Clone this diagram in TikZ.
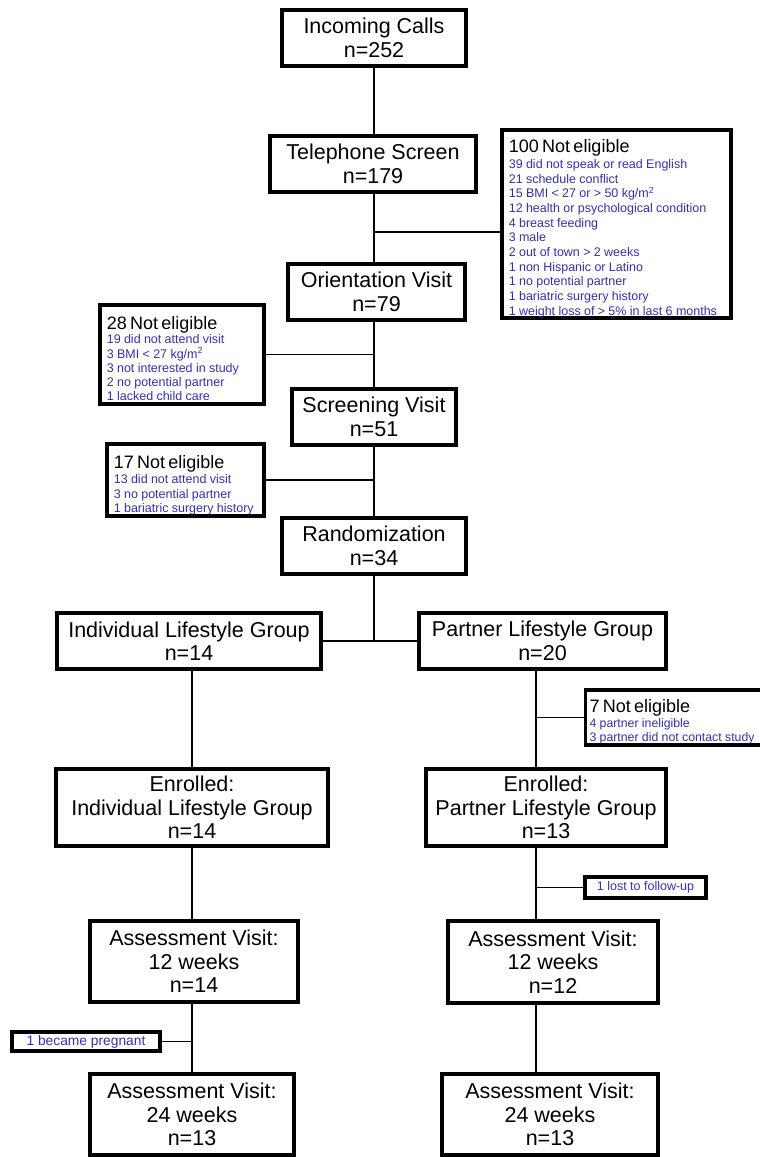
\documentclass[tikz,border=0pt]{standalone}
\usepackage{fontspec}
\setmainfont{Liberation Sans}
\definecolor{noteblue}{RGB}{50,50,165}
\newcommand\mfont{\fontsize{21.5}{23.5}\selectfont}
\newcommand\tfont{\fontsize{18}{20}\selectfont}
\newcommand\bfont{\fontsize{12.5}{14.7}\selectfont\color{noteblue}}
\begin{document}
\begin{tikzpicture}[x=1pt,y=-1pt,
  box/.style={draw=black, line width=3.6pt, align=center, inner sep=0pt, font=\mfont},
  note/.style={draw=black, line width=3.6pt, align=left, inner xsep=7pt, inner ysep=0pt},
  small/.style={draw=black, line width=3.6pt, align=center, inner sep=0pt, font=\bfont},
  conn/.style={draw=black, line width=1.3pt}]
\useasboundingbox (0,0) rectangle (760,1157);
\coordinate (mc) at (374,0);
\coordinate (lc) at (192,0);
\coordinate (rc) at (536,0);
% main column
\node[box, minimum width=184.4, minimum height=56.4] (A) at (374,38) {Incoming Calls\\n=252};
\node[box, minimum width=206.4, minimum height=56.4] (B) at (373,164) {Telephone Screen\\n=179};
\node[box, minimum width=177.4, minimum height=56.4] (D) at (376.5,292) {Orientation Visit\\n=79};
\node[box, minimum width=164.4, minimum height=56.4] (F) at (374,417) {Screening Visit\\n=51};
\node[box, minimum width=184.4, minimum height=56.4] (H) at (374,546) {Randomization\\n=34};
% side notes
\node[note, minimum width=229.4, minimum height=188.4, text width=215.4] (C) at (616.5,224)
 {\vskip2pt{\tfont 100 Not eligible\par}\vskip1.5pt
  {\bfont 39 did not speak or read English\\
   21 schedule conflict\\
   15 BMI < 27 or > 50 kg/m\textsuperscript{2}\\
   12 health or psychological condition\\
   4 breast feeding\\
   3 male\\
   2 out of town > 2 weeks\\
   1 non Hispanic or Latino\\
   1 no potential partner\\
   1 bariatric surgery history\\
   1 weight loss of > 5\% in last 6 months\par}};
\node[note, minimum width=164.4, minimum height=99.4, text width=150.4] (E) at (182,354.5)
 {\vskip1pt{\tfont 28 Not eligible\par}\vskip0.5pt
  {\fontsize{12.5}{14.2}\selectfont\color{noteblue} 19 did not attend visit\\
   3 BMI < 27 kg/m\textsuperscript{2}\\
   3 not interested in study\\
   2 no potential partner\\
   1 lacked child care\par}};
\node[note, minimum width=157.4, minimum height=72.4, text width=143.4] (G) at (185.5,480)
 {\vskip3.5pt{\tfont 17 Not eligible\par}\vskip1pt
  {\fontsize{12.5}{14.4}\selectfont\color{noteblue} 13 did not attend visit\\
   3 no potential partner\\
   1 bariatric surgery history\par}};
% groups
\node[box, minimum width=264.4, minimum height=56.4] (I) at (189,641) {Individual Lifestyle Group\\n=14};
\node[box, minimum width=247.4, minimum height=56.4] (J) at (542.5,641) {Partner Lifestyle Group\\n=20};
\node[note, minimum width=180, minimum height=55.4, text width=172, inner xsep=4pt] (K) at (675.5,717.5)
 {\vskip2pt{\tfont 7 Not eligible\par}
  {\fontsize{12.3}{14.4}\selectfont\color{noteblue} 4 partner ineligible\\
   3 partner did not contact study\par}};
\node[box, minimum width=272.4, minimum height=77.4] (EL) at (192,807.5) {Enrolled:\\Individual Lifestyle Group\\n=14};
\node[box, minimum width=240.4, minimum height=77.4] (ER) at (546,807.5) {Enrolled:\\Partner Lifestyle Group\\n=13};
\node[small, minimum width=121.4, minimum height=21.4] (L) at (645.5,887.5) {1 lost to follow-up};
\node[box, minimum width=208.4, minimum height=81.4] (AL) at (194,961.5) {Assessment Visit:\\12 weeks\\n=14};
\node[box, minimum width=210.4, minimum height=82.4] (AR) at (553,962) {Assessment Visit:\\12 weeks\\n=12};
\node[small, minimum width=148.4, minimum height=19.4, font={\fontsize{13.8}{15}\selectfont\color{noteblue}}] (P) at (86,1041.5) {1 became pregnant};
\node[box, minimum width=204.4, minimum height=81.4] (BL) at (192,1114.5) {Assessment Visit:\\24 weeks\\n=13};
\node[box, minimum width=216.4, minimum height=81.4] (BR) at (550,1114.5) {Assessment Visit:\\24 weeks\\n=13};
% connectors: main column
\draw[conn] (mc |- A.south) -- (mc |- B.north);
\draw[conn] (mc |- B.south) -- (mc |- D.north);
\draw[conn] (mc |- D.south) -- (mc |- F.north);
\draw[conn] (mc |- F.south) -- (mc |- H.north);
\coordinate (jc) at (374,232);
\draw[conn] (jc) -- (jc -| C.west);
\draw[conn] (E.east) -- (E.east -| mc);
\draw[conn] (G.east) -- (G.east -| mc);
\draw[conn] (mc |- H.south) -- (mc |- I.east);
\draw[conn] (I.east) -- (J.west);
% left column
\draw[conn] (lc |- I.south) -- (lc |- EL.north);
\draw[conn] (lc |- EL.south) -- (lc |- AL.north);
\draw[conn] (lc |- AL.south) -- (lc |- BL.north);
\draw[conn] (P.east) -- (P.east -| lc);
% right column
\draw[conn] (rc |- J.south) -- (rc |- ER.north);
\draw[conn] (rc |- ER.south) -- (rc |- AR.north);
\draw[conn] (rc |- AR.south) -- (rc |- BR.north);
\draw[conn] (K.west) -- (K.west -| rc);
\draw[conn] (L.west) -- (L.west -| rc);
\end{tikzpicture}
\end{document}
